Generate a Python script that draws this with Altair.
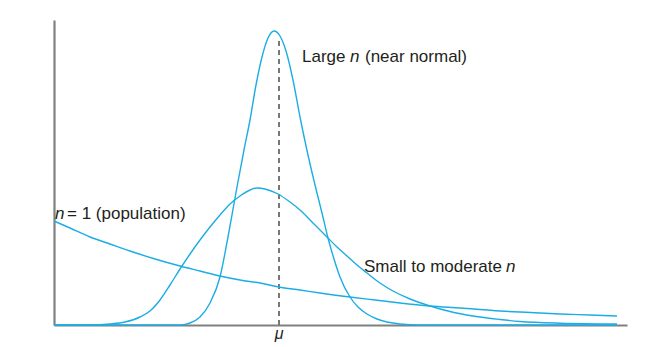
import altair as alt
import pandas as pd

# Curves (x along the axis, height above the baseline)
pop_x = [54, 70, 90, 110, 130, 155, 180, 200, 220, 240, 260, 279, 300, 320, 350, 375, 400, 430, 460, 500, 530, 560, 590, 617]
pop_h = [104, 97, 88, 81, 74, 66, 59, 54, 49, 45, 42, 38, 35, 32, 28, 25, 22, 19, 17, 14, 12.5, 11, 10, 9]

mid_x = [54, 90, 110, 125, 140, 150, 160, 170, 180, 190, 200, 210, 220, 230, 240, 250, 257, 265, 278, 290, 300, 314, 327, 337, 347, 357, 367, 380, 393, 410, 430, 450, 473, 500, 520, 560, 617]
mid_h = [0, 0, 1, 3, 8, 14, 25, 40, 56, 71, 85, 98, 110, 121, 129, 135, 137, 136, 131, 123, 115, 101, 88, 78, 69, 60, 52, 42, 34, 26, 19, 13.5, 9, 5.5, 3.5, 1.8, 1]

big_x = [54, 150, 180, 190, 200, 210, 220, 228, 237, 244, 250, 256, 262, 268, 274, 280, 286, 293, 300, 308, 316, 322, 328, 334, 340, 350, 358, 367, 377, 387, 400, 420, 617]
big_h = [0, 0, 0, 2, 8, 22, 48, 88, 138, 175, 205, 240, 268, 287, 294, 289, 274, 245, 208, 170, 136, 112, 87, 66, 48, 28, 18, 11, 6, 3, 1, 0, 0]

mu_x = 279
mu_top = 287

rows = []
for name, xs, hs in [("population", pop_x, pop_h), ("small", mid_x, mid_h), ("large", big_x, big_h)]:
    for x, h in zip(xs, hs):
        rows.append({"series": name, "x": x, "h": h})
curves = pd.DataFrame(rows)

labels = pd.DataFrame([
    {"x": 55, "y": 111, "text": "n", "italic": True},
    {"x": 67, "y": 111, "text": "= 1 (population)", "italic": False},
    {"x": 302, "y": 268, "text": "Large", "italic": False},
    {"x": 350, "y": 268, "text": "n", "italic": True},
    {"x": 365, "y": 268, "text": "(near normal)", "italic": False},
    {"x": 364, "y": 58, "text": "Small to moderate", "italic": False},
    {"x": 506, "y": 58, "text": "n", "italic": True},
    {"x": 279, "y": -9, "text": "μ", "italic": True},
])

BLUE = "#1CADE4"
GRAY = "#808080"
FONT = "Liberation Sans"

xs = alt.Scale(domain=[54, 627], nice=False, zero=False)
ys = alt.Scale(domain=[0, 305], nice=False, zero=False)
ax = alt.Axis(domain=True, ticks=False, labels=False, grid=False, title=None,
              domainColor=GRAY, domainWidth=2.2)

lines = alt.Chart(curves).mark_line(color=BLUE, strokeWidth=1.4, interpolate="monotone").encode(
    x=alt.X("x:Q", scale=xs, axis=ax),
    y=alt.Y("h:Q", scale=ys, axis=ax),
    detail="series:N",
)

mu_df = pd.DataFrame({"x": [mu_x], "y": [0], "y2": [mu_top]})
mu_rule = alt.Chart(mu_df).mark_rule(color="#777777", strokeWidth=2, strokeDash=[5, 4]).encode(
    x=alt.X("x:Q", scale=xs), y=alt.Y("y:Q", scale=ys), y2="y2:Q"
)

normal_txt = alt.Chart(labels[~labels["italic"]]).mark_text(
    align="left", baseline="middle", font=FONT, fontSize=17, color="#231F20"
).encode(x=alt.X("x:Q", scale=xs), y=alt.Y("y:Q", scale=ys), text="text:N")

italic_txt = alt.Chart(labels[labels["italic"] & (labels["text"] != "μ")]).mark_text(
    align="left", baseline="middle", font=FONT, fontSize=17, fontStyle="italic", color="#231F20"
).encode(x=alt.X("x:Q", scale=xs), y=alt.Y("y:Q", scale=ys), text="text:N")

mu_txt = alt.Chart(labels[labels["text"] == "μ"]).mark_text(
    align="center", baseline="middle", font=FONT, fontSize=16, fontStyle="italic", color="#231F20"
).encode(x=alt.X("x:Q", scale=xs), y=alt.Y("y:Q", scale=ys), text="text:N")

chart = alt.layer(mu_rule, lines, normal_txt, italic_txt, mu_txt).properties(
    width=573, height=305,
    autosize=alt.AutoSizeParams(type="none"),
    padding={"left": 54, "top": 20, "right": 27, "bottom": 22},
    background="white",
).configure_view(stroke=None)

chart.save("out.html", embed_options={"renderer": "svg", "actions": False})
